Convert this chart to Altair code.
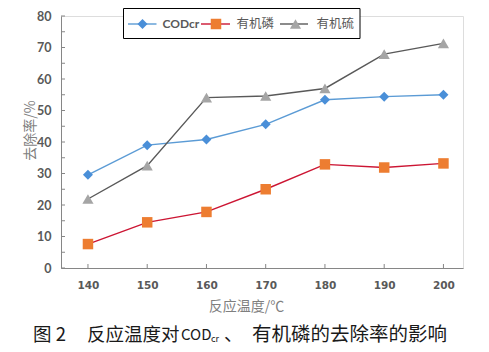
import altair as alt
import pandas as pd

# ---------------- data ----------------
temps = [140, 150, 160, 170, 180, 190, 200]
cod = [29.6, 39.0, 40.8, 45.6, 53.4, 54.4, 55.0]
organic_p = [7.6, 14.5, 17.8, 25.0, 32.9, 31.9, 33.2]
organic_s = [21.9, 32.5, 54.1, 54.6, 57.0, 67.9, 71.3]
series_names = ["CODcr", "有机磷", "有机硫"]
series_values = [cod, organic_p, organic_s]
x_tick_values = [140, 150, 160, 170, 180, 190, 200]
y_tick_values = list(range(0, 81, 5))
y_label_values = list(range(0, 81, 10))

x_title = "反应温度/℃"
y_title = "去除率/%"
caption_parts = ["图 2", "反应温度对", "COD", "cr", "、", "有机磷的去除率的影响"]

# ---------------- layout / style ----------------
W, H = 402, 252
PAD = {"left": 61, "top": 16, "right": 26, "bottom": 84}
AXIS_GRAY = "#868686"
LABEL_GRAY = "#595959"
TITLE_GRAY = "#7f7f7f"
CJK = "Noto Sans CJK SC"

styles = {
    "CODcr": dict(line="#5b9bd5", point="#4a8fd8", shape="diamond", size=100),
    "有机磷": dict(line="#cc1533", point="#ed7d31", shape="square", size=110),
    "有机硫": dict(line="#595959", point="#a5a5a5", shape="triangle-up", size=125),
}

xscale = alt.Scale(domain=[135.45, 203.3], nice=False, zero=False)
yscale = alt.Scale(domain=[0, 80], nice=False)

x_axis = alt.Axis(
    values=x_tick_values, format="d", ticks=False, grid=False,
    domainColor=AXIS_GRAY, domainWidth=1,
    labelFont="DejaVu Sans", labelFontWeight="bold", labelFontSize=10.5,
    labelColor=LABEL_GRAY, labelPadding=12,
    title=x_title, titleFont=CJK, titleFontWeight="normal", titleFontSize=14,
    titleColor=TITLE_GRAY, titleX=185, titleY=38, titleAlign="center",
    titleBaseline="middle",
)
y_axis = alt.Axis(
    values=y_label_values, ticks=False, grid=False,
    domainColor=AXIS_GRAY, domainWidth=1,
    labelFont="Lato", labelFontWeight="bold", labelFontSize=12.5,
    labelColor=LABEL_GRAY, labelPadding=10,
    title=y_title, titleFont=CJK, titleFontWeight="normal", titleFontSize=14,
    titleColor=TITLE_GRAY, titleX=-31, titleY=114, titleAngle=270,
    titleAlign="center", titleBaseline="middle",
)

rows = []
for name, vals in zip(series_names, series_values):
    for t, v in zip(temps, vals):
        rows.append({"temp": t, "rate": v, "series": name})
df = pd.DataFrame(rows)

# inside tick marks
yt = alt.Chart(pd.DataFrame({"rate": y_tick_values})).mark_rule(
    color=AXIS_GRAY, strokeWidth=1
).encode(
    y=alt.Y("rate:Q", scale=yscale, axis=y_axis),
    x=alt.value(0), x2=alt.value(4),
)
xt = alt.Chart(pd.DataFrame({"temp": x_tick_values})).mark_rule(
    color=AXIS_GRAY, strokeWidth=1
).encode(
    x=alt.X("temp:Q", scale=xscale, axis=x_axis),
    y=alt.value(H), y2=alt.value(H - 4),
)
layers = [yt, xt]

for name in series_names:
    st = styles[name]
    sub = df[df["series"] == name]
    base = alt.Chart(sub).encode(
        x=alt.X("temp:Q", scale=xscale, axis=x_axis),
        y=alt.Y("rate:Q", scale=yscale, axis=y_axis),
    )
    line = base.mark_line(color=st["line"], strokeWidth=1.4)
    pts = base.mark_point(
        shape=st["shape"], size=st["size"], filled=True, opacity=1,
        color=st["point"], strokeWidth=0,
    )
    layers += [line, pts]

one = pd.DataFrame({"a": [0]})

# legend (manual, to show line + marker)
legend_box = alt.Chart(one).mark_rect(
    fill="white", stroke="#000000", strokeWidth=1
).encode(x=alt.value(62.5), x2=alt.value(299), y=alt.value(-7.5), y2=alt.value(22.5))
layers.append(legend_box)

LEG_Y = 8
legend_layout = {
    "CODcr": dict(x1=67, x2=95.5, mx=81.5, tx=101.5, font="Lato", weight="bold", fs=12),
    "有机磷": dict(x1=140, x2=169, mx=155, tx=175.5, font=CJK, weight="normal", fs=12.5),
    "有机硫": dict(x1=219, x2=247, mx=234.5, tx=255.5, font=CJK, weight="normal", fs=12.5),
}
for name in series_names:
    st = styles[name]
    lo = legend_layout[name]
    layers.append(
        alt.Chart(one).mark_rule(color=st["line"], strokeWidth=1.4).encode(
            x=alt.value(lo["x1"]), x2=alt.value(lo["x2"]), y=alt.value(LEG_Y)
        )
    )
    layers.append(
        alt.Chart(one).mark_point(
            shape=st["shape"], size=st["size"], filled=True, opacity=1,
            color=st["point"], strokeWidth=0,
        ).encode(x=alt.value(lo["mx"]), y=alt.value(LEG_Y))
    )
    layers.append(
        alt.Chart(one).mark_text(
            text=name, align="left", baseline="middle", font=lo["font"],
            fontWeight=lo["weight"], fontSize=lo["fs"], color=LABEL_GRAY,
        ).encode(x=alt.value(lo["tx"]), y=alt.value(LEG_Y))
    )

# caption
cap_layout = [
    dict(x=-28, y=319, fs=18.5, align="left"),
    dict(x=26, y=319, fs=18.5, align="left"),
    dict(x=120, y=319, fs=15, align="left"),
    dict(x=150, y=323, fs=9, align="left"),
    dict(x=163, y=319, fs=19, align="left"),
    dict(x=386, y=319, fs=19.5, align="right"),
]
for txt, lo in zip(caption_parts, cap_layout):
    layers.append(
        alt.Chart(one).mark_text(
            text=txt, align=lo["align"], baseline="middle", font=CJK,
            fontSize=lo["fs"], color="#1a1a1a",
        ).encode(x=alt.value(lo["x"]), y=alt.value(lo["y"]))
    )

chart = alt.layer(*layers).properties(
    width=W, height=H,
    autosize=alt.AutoSizeParams(type="none"),
    padding=PAD,
).configure_view(stroke=None).configure(background="white")

chart.save("out.html", embed_options={"renderer": "svg", "actions": False})
